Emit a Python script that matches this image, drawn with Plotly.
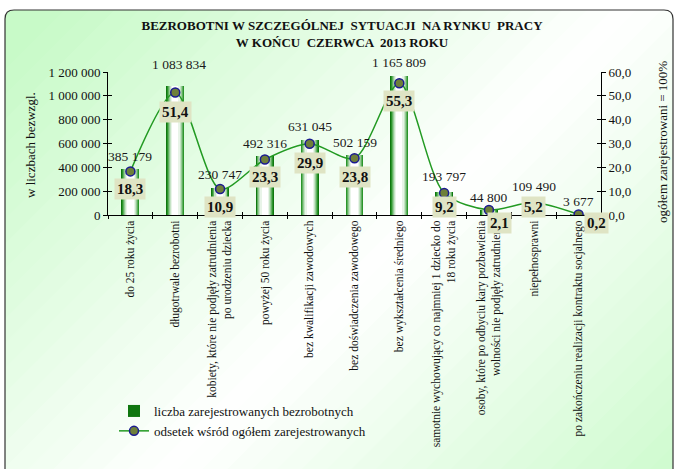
import plotly.graph_objects as go

# ---------------- data ----------------
categories = [
    "do 25 roku życia",
    "długotrwale bezrobotni",
    "kobiety, które nie podjęły zatrudnienia<br>po urodzeniu dziecka",
    "powyżej 50 roku życia",
    "bez kwalifikacji zawodowych",
    "bez doświadczenia zawodowego",
    "bez wykształcenia średniego",
    "samotnie wychowujący co najmniej 1 dziecko do<br>18 roku życia",
    "osoby, które po odbyciu kary pozbawienia<br>wolności nie podjęły zatrudnienia",
    "niepełnosprawni",
    "po zakończeniu realizacji kontraktu socjalnego",
]
counts = [385179, 1083834, 230747, 492316, 631045, 502159, 1165809, 193797, 44800, 109490, 3677]
percents = [18.3, 51.4, 10.9, 23.3, 29.9, 23.8, 55.3, 9.2, 2.1, 5.2, 0.2]

title_text = "BEZROBOTNI W SZCZEGÓLNEJ  SYTUACJI  NA RYNKU  PRACY<br>W KOŃCU  CZERWCA  2013 ROKU"
series_bar = "liczba zarejestrowanych bezrobotnych"
series_line = "odsetek wśród ogółem zarejestrowanych"
left_title = "w liczbach bezwzgl."
right_title = "ogółem zarejestrowani = 100%"

# ---------------- style ----------------
FONT = "Liberation Serif, Times New Roman, serif"
W, H = 675, 469
L, R, T, B = 108, 74, 72, 254
PW, PH = W - L - R, H - T - B

# label offsets (pixels) - styling only
val_label_dy = [13, 21, 13, 13, 13, 13, 14, 15, 12, 15, 13]
val_label_dx = [0, 4, 0, 0, 0, 0, 0, 0, 0, 0, 0]
pct_label_dy = [18, 19, 18, 18, 19, 19, 18, 14, 13, 4, 8]
pct_label_dx = [0, 0, 0, 0, 0, 0, 0, 0, 11, 0, 18]


def pp(px, py):
    return (px - L) / PW, (T + PH - py) / PH


fig = go.Figure()

# cylinder-like bars: overlaid layers of decreasing width
layers = [
    (0.40, "#0f760f"),
    (0.37, "#2b952b"),
    (0.33, "#5fb05f"),
    (0.29, "#95cb95"),
    (0.25, "#c5e3c5"),
    (0.20, "#e8f4e8"),
    (0.14, "#ffffff"),
]
for i, (w, c) in enumerate(layers):
    fig.add_trace(go.Bar(
        x=categories, y=counts, width=w,
        marker=dict(color=c, line=dict(width=0)),
        name=series_bar, showlegend=(i == 0), hoverinfo="skip" if i else None,
        xaxis="x", yaxis="y",
    ))

fig.add_trace(go.Scatter(
    x=categories, y=percents, mode="lines+markers", name=series_line,
    line=dict(color="#229a22", width=1.5, shape="spline", smoothing=0.8),
    marker=dict(size=9, color="#6e7f3a", line=dict(color="#1a1a90", width=1.5)),
    xaxis="x2", yaxis="y2",
))
# dummy traces to carry inner tick axes
fig.add_trace(go.Scatter(x=[categories[0]], y=[0], mode="markers", opacity=0,
                         showlegend=False, hoverinfo="skip", xaxis="x", yaxis="y3"))
fig.add_trace(go.Scatter(x=[categories[0]], y=[0], mode="markers", opacity=0,
                         showlegend=False, hoverinfo="skip", xaxis="x", yaxis="y4"))

annotations = []
for i, cat in enumerate(categories):
    annotations.append(dict(
        x=cat, y=counts[i], xref="x", yref="y",
        text=f"{counts[i]:,}".replace(",", " "),
        showarrow=False, yanchor="middle", xanchor="center",
        yshift=val_label_dy[i], xshift=val_label_dx[i],
        font=dict(family=FONT, size=13.5, color="#1a1a1a"),
    ))
    annotations.append(dict(
        x=cat, y=percents[i], xref="x2", yref="y2",
        text=f"<b>{percents[i]:.1f}</b>".replace(".", ","),
        showarrow=False, yanchor="middle", xanchor="center",
        yshift=-pct_label_dy[i], xshift=pct_label_dx[i],
        bgcolor="#dfe4c4", borderpad=2,
        font=dict(family=FONT, size=15, color="#111111"),
    ))

lx, ly = pp(30, 145)
annotations.append(dict(x=lx, y=ly, xref="paper", yref="paper", text=left_title,
                        textangle=-90, showarrow=False, xanchor="center", yanchor="middle",
                        font=dict(family=FONT, size=13, color="#111")))
rx, ry = pp(662, 142)
annotations.append(dict(x=rx, y=ry, xref="paper", yref="paper", text=right_title,
                        textangle=-90, showarrow=False, xanchor="center", yanchor="middle",
                        font=dict(family=FONT, size=13, color="#111")))

# background: diagonal green-white-green gradient
shapes = []
N = 46
S = W + H
for i in range(N):
    t0 = i * S / N
    t1 = (i + 1) * S / N + 2
    tm = (i + 0.5) / N
    w = max(0.0, 1 - abs(tm - 0.56) / 0.5)
    g0 = (200, 250, 200)
    col = tuple(int(round(g0[k] + (255 - g0[k]) * w)) for k in range(3))
    pts = [(t0 + 300, -300), (t1 + 300, -300), (t1 - H - 300, H + 300), (t0 - H - 300, H + 300)]
    path = "M " + " L ".join(f"{pp(a, b)[0]:.5f},{pp(a, b)[1]:.5f}" for a, b in pts) + " Z"
    shapes.append(dict(type="path", path=path, xref="paper", yref="paper",
                       fillcolor=f"rgb{col}", line=dict(width=0), layer="below"))

# white outside the rounded frame
for (a, b, c, d) in [(-5, -5, W + 5, 10), (-5, -5, 5, H + 5), (673, -5, W + 5, H + 5)]:
    x0, y0 = pp(a, b)
    x1, y1 = pp(c, d)
    shapes.append(dict(type="rect", x0=x0, y0=y0, x1=x1, y1=y1, xref="paper", yref="paper",
                       fillcolor="white", line=dict(width=0), layer="below"))
# corner fills + frame
r = 9
fx0, fy0, fx1, fy1 = 5, 10, 673, 472


def P(a, b):
    x, y = pp(a, b)
    return f"{x:.5f},{y:.5f}"


for corner in [(fx0, fy0, fx0 + r, fy0, fx0, fy0 + r), (fx1, fy0, fx1 - r, fy0, fx1, fy0 + r)]:
    cx, cy, ax, ay, bx, by = corner
    shapes.append(dict(type="path", xref="paper", yref="paper", layer="below",
                       path=f"M {P(cx, cy)} L {P(ax, ay)} Q {P(cx, cy)} {P(bx, by)} Z",
                       fillcolor="white", line=dict(width=0)))
frame = (f"M {P(fx0, fy1)} L {P(fx0, fy0 + r)} Q {P(fx0, fy0)} {P(fx0 + r, fy0)} "
         f"L {P(fx1 - r, fy0)} Q {P(fx1, fy0)} {P(fx1, fy0 + r)} L {P(fx1, fy1)}")
shapes.append(dict(type="path", xref="paper", yref="paper", layer="below",
                   path=frame, line=dict(color="#333333", width=1.2)))

axis_font = dict(family=FONT, size=13, color="#111")
xrange = [-0.5, len(categories) - 0.5]

fig.update_layout(
    width=W, height=H,
    margin=dict(l=L, r=R, t=T, b=B, pad=0),
    paper_bgcolor="white", plot_bgcolor="rgba(0,0,0,0)",
    separators=", ",
    barmode="overlay", bargap=0,
    font=dict(family=FONT, size=13, color="#111"),
    title=dict(text=f"<b>{title_text}</b>", x=342 / W, xanchor="center",
               y=1 - 30 / H, yanchor="middle", yref="container",
               font=dict(family=FONT, size=13, color="#111")),
    xaxis=dict(type="category", categoryorder="array", categoryarray=categories,
               range=xrange, showline=True, linecolor="black", linewidth=1,
               ticks="outside", ticklen=3, tickcolor="black", tickson="boundaries",
               tickangle=-90, tickfont=dict(family=FONT, size=11.5, color="#111"),
               showgrid=False, zeroline=False, anchor="y"),
    xaxis2=dict(type="category", categoryorder="array", categoryarray=categories,
                range=xrange, overlaying="x", anchor="y", side="bottom",
                showline=False, ticks="inside", ticklen=3, tickcolor="black",
                tickson="boundaries", showticklabels=False, showgrid=False, zeroline=False),
    yaxis=dict(range=[0, 1200000], dtick=200000, tickformat=",d",
               showline=True, linecolor="black", linewidth=1,
               ticks="outside", ticklen=4, tickcolor="black",
               tickfont=axis_font, showgrid=False, zeroline=False, anchor="x"),
    yaxis2=dict(range=[0, 60], dtick=10, tickformat=".1f", overlaying="y", side="right",
                anchor="x", showline=True, linecolor="black", linewidth=1,
                ticks="outside", ticklen=4, tickcolor="black",
                tickfont=axis_font, showgrid=False, zeroline=False),
    yaxis3=dict(range=[0, 1200000], dtick=200000, overlaying="y", side="left", anchor="x",
                ticks="inside", ticklen=4, tickcolor="black", showticklabels=False,
                showline=False, showgrid=False, zeroline=False),
    yaxis4=dict(range=[0, 60], dtick=10, overlaying="y", side="right", anchor="x",
                ticks="inside", ticklen=4, tickcolor="black", showticklabels=False,
                showline=False, showgrid=False, zeroline=False),
    legend=dict(x=pp(114, 0)[0], y=pp(0, 396)[1], xanchor="left", yanchor="top",
                bgcolor="rgba(0,0,0,0)", traceorder="normal",
                font=dict(family=FONT, size=13, color="#111"), tracegroupgap=0),
    annotations=annotations,
    shapes=shapes,
    showlegend=True,
)

fig.write_html("out.html", config={"displayModeBar": False},
               post_script="document.body.style.margin='0px';document.body.style.overflow='hidden';")
